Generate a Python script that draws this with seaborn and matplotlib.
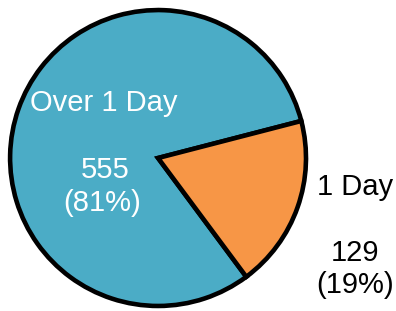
import matplotlib.pyplot as plt
import seaborn as sns

categorias = ["Over 1 Day", "1 Day"]
valores = [555, 129]
colores = ["#4BACC6", "#F79646"]

sns.set_theme(style="white")
plt.rcParams['font.family'] = ['Liberation Sans', 'DejaVu Sans']

fig = plt.figure(figsize=(3.96, 3.11), dpi=100)
ax = fig.add_axes([0, 0, 1, 1])

total = sum(valores)
# el sector pequeño termina a unos 14 grados
wedges, _ = ax.pie(valores, colors=colores, startangle=14.5, counterclock=True,
                   radius=1, center=(0, 0),
                   wedgeprops={'edgecolor': 'black', 'linewidth': 3.3})

pcts = [round(v / total * 100) for v in valores]

fs = 21
# textos del sector grande (blanco, dentro)
ax.text(-0.367, 0.318, categorias[0], color='white', fontsize=fs, ha='center', va='baseline')
ax.text(-0.358, -0.135, f"{valores[0]}", color='white', fontsize=fs, ha='center', va='baseline')
ax.text(-0.375, -0.358, f"({pcts[0]}%)", color='white', fontsize=fs, ha='center', va='baseline')
# textos del sector pequeño (negro, fuera)
ax.text(1.331, -0.25, categorias[1], color='black', fontsize=fs, ha='center', va='baseline')
ax.text(1.331, -0.696, f"{valores[1]}", color='black', fontsize=fs, ha='center', va='baseline')
ax.text(1.331, -0.912, f"({pcts[1]}%)", color='black', fontsize=fs, ha='center', va='baseline')

ax.set_xlim(-1.068, 1.608)
ax.set_ylim(-1.034, 1.068)
ax.set_aspect('equal')
ax.axis('off')

fig.savefig("out.png", dpi=100)
